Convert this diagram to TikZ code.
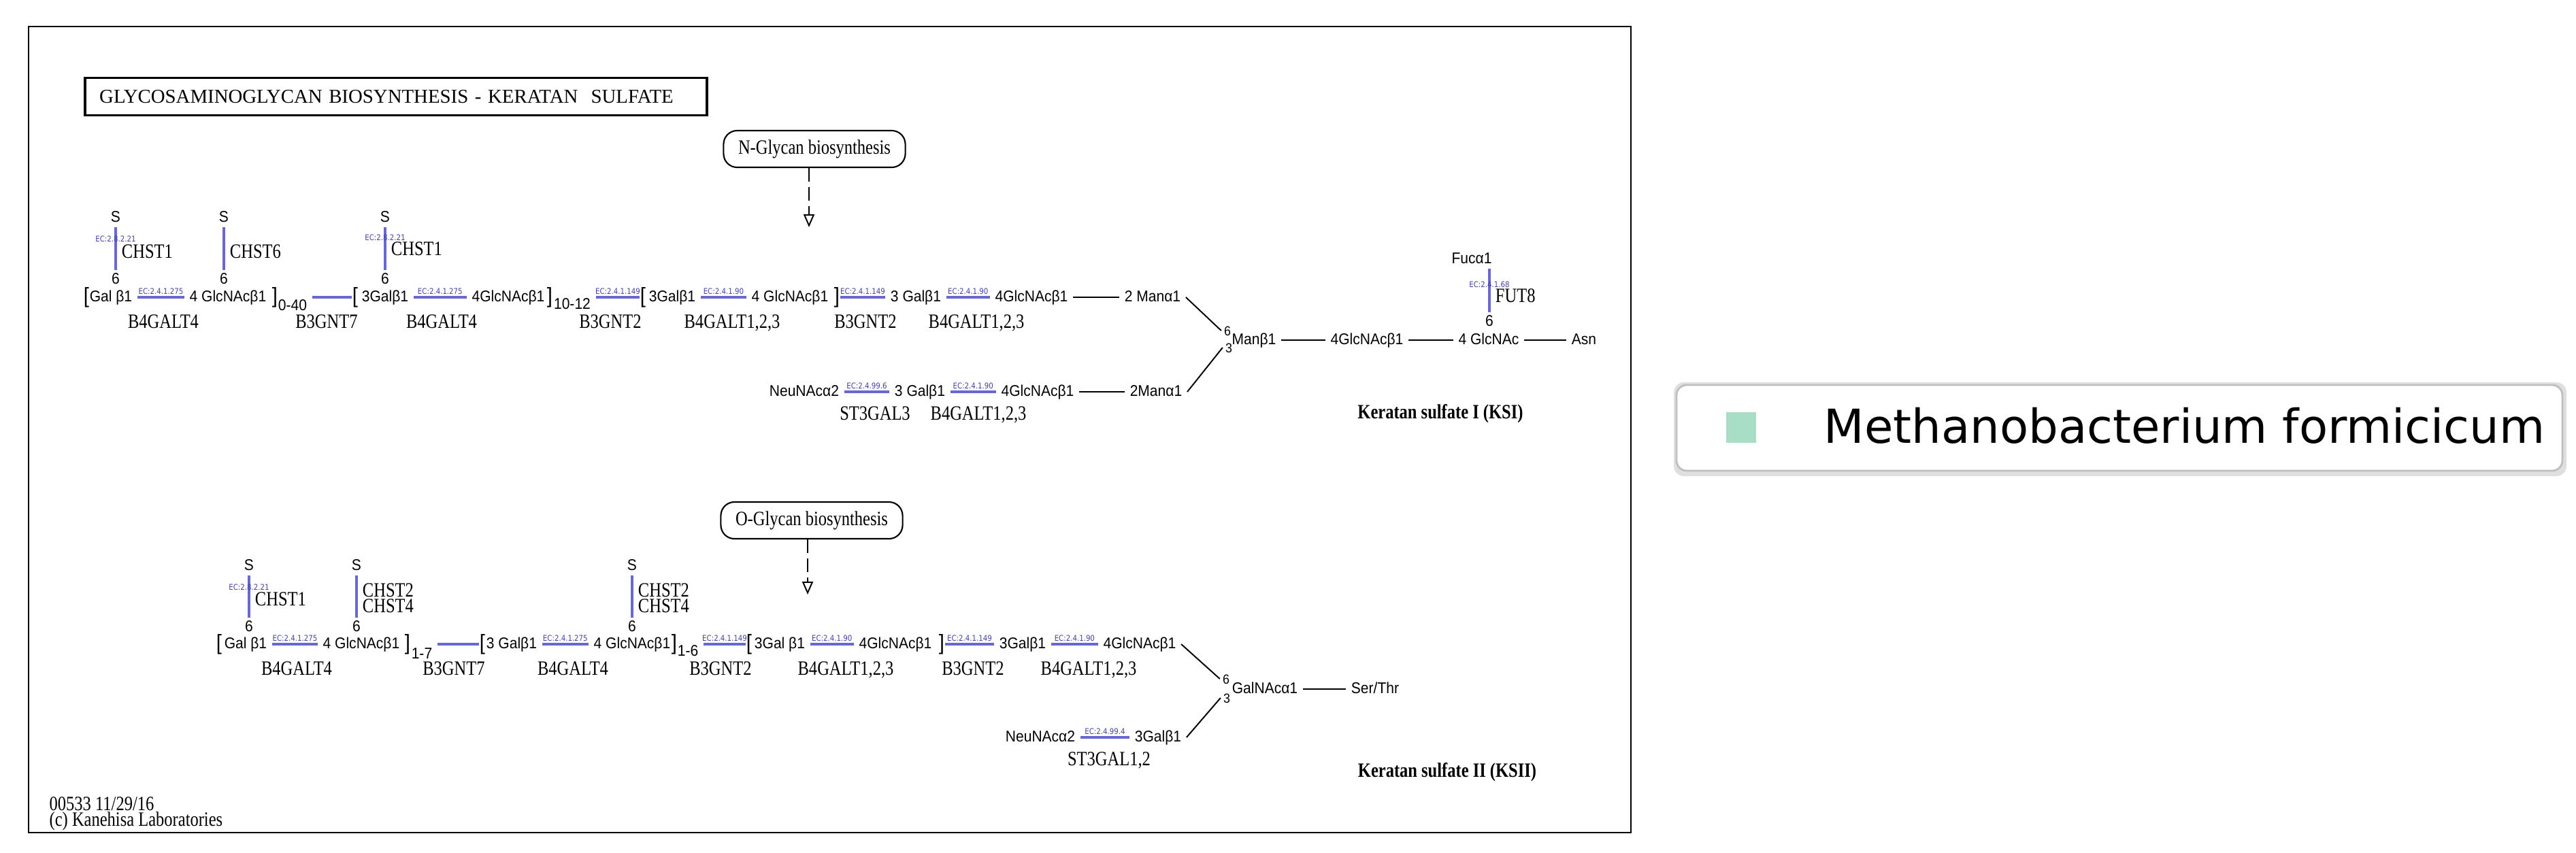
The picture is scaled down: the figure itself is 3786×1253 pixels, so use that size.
\documentclass[tikz,border=0pt]{standalone}
\usepackage{fontspec}
\usetikzlibrary{arrows.meta,positioning}
\newfontfamily\kgserif[FakeStretch=0.82]{Liberation Serif}
\newfontfamily\kgtitlefont{Liberation Serif}
\newfontfamily\kgsans[FakeStretch=0.92]{Liberation Sans}
\newfontfamily\kgec[FakeStretch=0.88]{DejaVu Sans}
\newfontfamily\kglegend{DejaVu Sans}
\definecolor{enzblue}{RGB}{104,104,212}
\definecolor{ectext}{RGB}{66,66,164}
\definecolor{orgcol}{RGB}{168,222,198}

\begin{document}
\begin{tikzpicture}[x=0.01cm, y=-0.01cm,
  gly/.style={font=\kgsans\fontsize{6.5pt}{7pt}\selectfont, inner xsep=2pt, inner ysep=0.5pt, text height=5pt, text depth=1.5pt},
  numsmall/.style={gly, font=\kgsans\fontsize{5.5pt}{6pt}\selectfont, inner xsep=1pt, text height=4pt, text depth=0pt},
  brk/.style={font=\kgsans\fontsize{9pt}{9pt}\selectfont, inner sep=0pt},
  gene/.style={font=\kgserif\fontsize{8.5pt}{6.6pt}\selectfont, inner sep=0pt, text height=5.6pt, text depth=1.5pt},
  gene2/.style={font=\kgserif\fontsize{8.5pt}{6.6pt}\selectfont, inner sep=0pt, align=left},
  ksname/.style={gene, font=\kgserif\fontsize{8.5pt}{6.6pt}\selectfont\bfseries},
  ec/.style={font=\kgec\fontsize{3.3pt}{3.6pt}\selectfont, text=ectext, inner sep=0.4pt},
  enz/.style={draw=enzblue, line width=1.1pt},
  bond/.style={draw=black, line width=0.55pt},
  maplink/.style={draw, line width=0.55pt, dash pattern=on 0.2cm off 0.08cm,
    -{Triangle[open, length=0.19cm, width=0.16cm]}},
  pwbox/.style={draw, line width=0.6pt, rounded corners=0.2cm, minimum width=2.67cm,
    minimum height=0.54cm, inner sep=0pt, font=\kgserif\fontsize{8.5pt}{9pt}\selectfont},
  titlebox/.style={draw, line width=1pt, text width=8.71cm, align=left, inner xsep=0.21cm,
    inner ysep=0pt, minimum height=0.55cm, font=\kgtitlefont\fontsize{8.2pt}{9pt}\selectfont},
  legtext/.style={font=\kglegend\fontsize{19.6pt}{22pt}\selectfont, inner sep=0pt}]
  \useasboundingbox (0,0) rectangle (3786,1253);

  % frame and title
  \draw[line width=0.8pt] (42,39) rectangle (2397,1224);
  \node[titlebox] (title) at (582,142) {GLYCOSAMINOGLYCAN BIOSYNTHESIS - KERATAN\ \ SULFATE};

  % links to other maps
  \node[pwbox] (nglyc) at (1197,219) {N-Glycan biosynthesis};
  \coordinate (ntip) at (1189,334);
  \draw[maplink] (nglyc.south -| ntip) -- (ntip);
  \node[pwbox] (oglyc) at (1193,765) {O-Glycan biosynthesis};
  \coordinate (otip) at (1187,874);
  \draw[maplink] (oglyc.south -| otip) -- (otip);

  %%% keratan sulfate I
  % main chain
  \node[brk] (aLb1) at (127,437) {[};
  \node[gly] (aGal1) at (163,437) {Gal β1};
  \node[gly] (aGlc1) at (335,437) {4 GlcNAcβ1};
  \node[brk] (aRb1) at (404,437) {]};
  \node[gly] (aRep1) at (430,450) {0-40};
  \node[brk] (aLb2) at (522,437) {[};
  \node[gly] (aGal2) at (566,437) {3Galβ1};
  \node[gly] (aGlc2) at (747,437) {4GlcNAcβ1};
  \node[brk] (aRb2) at (808,437) {]};
  \node[gly] (aRep2) at (841,448) {10-12};
  \node[brk] (aLb3) at (945,437) {[};
  \node[gly] (aGal3) at (988,437) {3Galβ1};
  \node[gly] (aGlc3) at (1161,437) {4 GlcNAcβ1};
  \node[brk] (aRb3) at (1230,437) {]};
  \node[gly] (aGal4) at (1346,437) {3 Galβ1};
  \node[gly] (aGlc4) at (1516,437) {4GlcNAcβ1};
  \node[gly] (aMan1) at (1694,437) {2 Manα1};

  \draw[enz] (aGal1) -- node[ec, above=0.3pt] (aEc2) {EC:2.4.1.275} (aGlc1);
  \draw[enz] (aRep1.east |- aLb2) -- (aLb2);
  \draw[enz] (aGal2) -- node[ec, above=0.3pt] (aEc3) {EC:2.4.1.275} (aGlc2);
  \draw[enz] (aRep2.east |- aLb3) -- node[ec, above=0.3pt] (aEc4) {EC:2.4.1.149} (aLb3);
  \draw[enz] (aGal3) -- node[ec, above=0.3pt] (aEc5) {EC:2.4.1.90} (aGlc3);
  \draw[enz] (aRb3) -- node[ec, above=0.3pt] (aEc6) {EC:2.4.1.149} (aGal4);
  \draw[enz] (aGal4) -- node[ec, above=0.3pt] (aEc7) {EC:2.4.1.90} (aGlc4);
  \draw[bond] (aGlc4) -- (aMan1);

  % sulfation
  \node[gly] (aS1) at (170,320) {S};
  \node[gly] (aSix1) at (170,411) {6};
  \draw[enz] (aS1) -- node[ec, pos=0.27] (aEc1) {EC:2.8.2.21}
    node[gene, right=2pt, pos=0.6] (aChst1) {CHST1} (aSix1);
  \node[gly] (aS2) at (329,320) {S};
  \node[gly] (aSix2) at (329,411) {6};
  \draw[enz] (aS2) -- node[gene, right=2pt, pos=0.6] (aChst6) {CHST6} (aSix2);
  \node[gly] (aS3) at (566,320) {S};
  \node[gly] (aSix3) at (566,411) {6};
  \draw[enz] (aS3) -- node[ec, pos=0.25] (aEc8) {EC:2.8.2.21}
    node[gene, right=2pt, pos=0.54] (aChst1b) {CHST1} (aSix3);

  % genes
  \node[gene] (aB4a) at (240,475) {B4GALT4};
  \node[gene] (aB3a) at (480,475) {B3GNT7};
  \node[gene] (aB4b) at (649,475) {B4GALT4};
  \node[gene] (aB3b) at (897,475) {B3GNT2};
  \node[gene] (aB4c) at (1076,475) {B4GALT1,2,3};
  \node[gene] (aB3c) at (1272,475) {B3GNT2};
  \node[gene] (aB4d) at (1435,475) {B4GALT1,2,3};

  % second branch
  \node[gly] (aNeu1) at (1182,576) {NeuNAcα2};
  \node[gly] (aGal5) at (1352,576) {3 Galβ1};
  \node[gly] (aGlc5) at (1525,576) {4GlcNAcβ1};
  \node[gly] (aMan2) at (1699,576) {2Manα1};
  \draw[enz] (aNeu1) -- node[ec, above=0.3pt] (aEc9) {EC:2.4.99.6} (aGal5);
  \draw[enz] (aGal5) -- node[ec, above=0.3pt] (aEc10) {EC:2.4.1.90} (aGlc5);
  \draw[bond] (aGlc5) -- (aMan2);
  \node[gene] (aSt3) at (1286,610) {ST3GAL3};
  \node[gene] (aB4e) at (1438,610) {B4GALT1,2,3};

  % core
  \node[numsmall] (aM6) at (1804,486) {6};
  \node[numsmall] (aM3) at (1806,511) {3};
  \node[gly] (aManb) at (1843,500) {Manβ1};
  \node[gly] (aGlc6) at (2009,500) {4GlcNAcβ1};
  \node[gly] (aGlc7) at (2188,500) {4 GlcNAc};
  \node[gly] (aAsn) at (2328,500) {Asn};
  \draw[bond] (aMan1.east) -- (aM6.west);
  \draw[bond] (aMan2.east) -- (aM3.west);
  \draw[bond] (aManb) -- (aGlc6);
  \draw[bond] (aGlc6) -- (aGlc7);
  \draw[bond] (aGlc7) -- (aAsn);

  % fucose
  \node[gly] (aFuc) at (2163,381) {Fucα1};
  \node[gly] (aF6) at (2189,473) {6};
  \draw[enz] (aF6 |- aFuc.south) -- node[ec, pos=0.37] (aEc11) {EC:2.4.1.68}
    node[gene, right=2pt, pos=0.66] (aFut8) {FUT8} (aF6);

  \node[ksname] (aName) at (2117,608) {Keratan sulfate I (KSI)};

  %%% keratan sulfate II
  % main chain
  \node[brk] (bLb1) at (322,947) {[};
  \node[gly] (bGal1) at (361,947) {Gal β1};
  \node[gly] (bGlc1) at (531,947) {4 GlcNAcβ1};
  \node[brk] (bRb1) at (599,947) {]};
  \node[gly] (bRep1) at (620,962) {1-7};
  \node[brk] (bLb2) at (709,947) {[};
  \node[gly] (bGal2) at (752,947) {3 Galβ1};
  \node[gly] (bGlc2) at (929,947) {4 GlcNAcβ1};
  \node[brk] (bRb2) at (991,947) {]};
  \node[gly] (bRep2) at (1011,958) {1-6};
  \node[brk] (bLb3) at (1101,947) {[};
  \node[gly] (bGal3) at (1146,947) {3Gal β1};
  \node[gly] (bGlc3) at (1316,947) {4GlcNAcβ1};
  \node[brk] (bRb3) at (1384,947) {]};
  \node[gly] (bGal4) at (1503,947) {3Galβ1};
  \node[gly] (bGlc4) at (1675,947) {4GlcNAcβ1};

  \draw[enz] (bGal1) -- node[ec, above=0.3pt] (bEc2) {EC:2.4.1.275} (bGlc1);
  \draw[enz] (bRep1.east |- bLb2) -- (bLb2);
  \draw[enz] (bGal2) -- node[ec, above=0.3pt] (bEc3) {EC:2.4.1.275} (bGlc2);
  \draw[enz] (bRep2.east |- bLb3) -- node[ec, above=0.3pt] (bEc4) {EC:2.4.1.149} (bLb3);
  \draw[enz] (bGal3) -- node[ec, above=0.3pt] (bEc5) {EC:2.4.1.90} (bGlc3);
  \draw[enz] (bRb3) -- node[ec, above=0.3pt] (bEc6) {EC:2.4.1.149} (bGal4);
  \draw[enz] (bGal4) -- node[ec, above=0.3pt] (bEc7) {EC:2.4.1.90} (bGlc4);

  % sulfation
  \node[gly] (bS1) at (366,832) {S};
  \node[gly] (bSix1) at (366,922) {6};
  \draw[enz] (bS1) -- node[ec, pos=0.28] (bEc1) {EC:2.8.2.21}
    node[gene, right=2pt, pos=0.6] (bChst1) {CHST1} (bSix1);
  \node[gly] (bS2) at (524,832) {S};
  \node[gly] (bSix2) at (524,922) {6};
  \draw[enz] (bS2) -- node[gene2, right=2pt, pos=0.53] (bChst24a) {CHST2\\CHST4} (bSix2);
  \node[gly] (bS3) at (929,832) {S};
  \node[gly] (bSix3) at (929,922) {6};
  \draw[enz] (bS3) -- node[gene2, right=2pt, pos=0.53] (bChst24b) {CHST2\\CHST4} (bSix3);

  % genes
  \node[gene] (bB4a) at (436,985) {B4GALT4};
  \node[gene] (bB3a) at (667,985) {B3GNT7};
  \node[gene] (bB4b) at (842,985) {B4GALT4};
  \node[gene] (bB3b) at (1059,985) {B3GNT2};
  \node[gene] (bB4c) at (1243,985) {B4GALT1,2,3};
  \node[gene] (bB3c) at (1430,985) {B3GNT2};
  \node[gene] (bB4d) at (1600,985) {B4GALT1,2,3};

  % core
  \node[numsmall] (bG6) at (1802,998) {6};
  \node[numsmall] (bG3) at (1803,1026) {3};
  \node[gly] (bGalnac) at (1859,1013) {GalNAcα1};
  \node[gly] (bSer) at (2021,1013) {Ser/Thr};
  \node[gly] (bNeu) at (1529,1084) {NeuNAcα2};
  \node[gly] (bGal5) at (1702,1084) {3Galβ1};
  \draw[enz] (bNeu) -- node[ec, above=0.3pt] (bEc8) {EC:2.4.99.4} (bGal5);
  \draw[bond] (bGlc4.east) -- (bG6.west);
  \draw[bond] (bGal5.east) -- (bG3.west);
  \draw[bond] (bGalnac) -- (bSer);
  \node[gene] (bSt3) at (1630,1118) {ST3GAL1,2};

  \node[ksname] (bName) at (2127,1135) {Keratan sulfate II (KSII)};

  % footer
  \node[gene2, anchor=north west] (mapinfo) at (72,1171) {00533 11/29/16\\(c) Kanehisa Laboratories};

  % organism legend
  \fill[gray!25, rounded corners=0.15cm] (2460,562) rectangle (3772,700);
  \draw[gray!50, fill=white, rounded corners=0.15cm, line width=0.8pt] (2464,566) rectangle (3766,692);
  \fill[orgcol] (2537,606) rectangle (2581,651);
  \node[legtext, anchor=west] (orgname) at (2680,626) {Methanobacterium formicicum};
\end{tikzpicture}
\end{document}
